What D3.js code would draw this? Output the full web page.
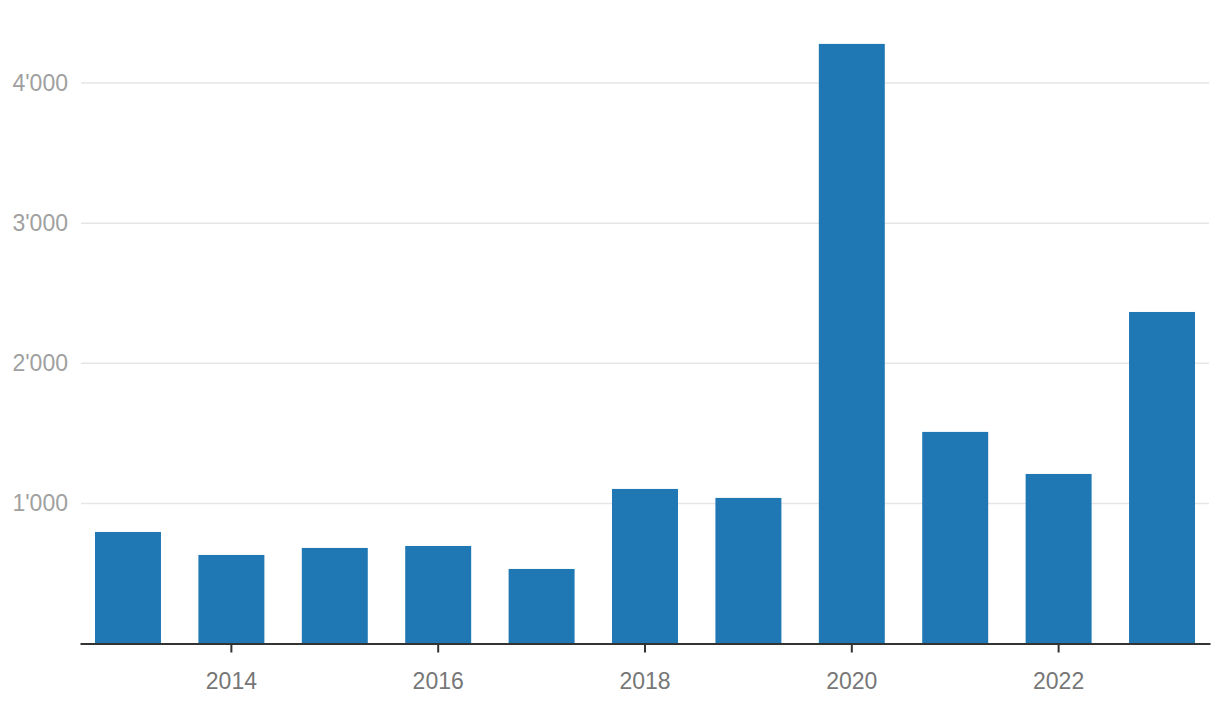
<!DOCTYPE html>
<html>
<head>
<meta charset="utf-8">
<script src="https://cdn.jsdelivr.net/npm/d3@7"></script>
<style>
  body { margin: 0; background: #fff; }
  text { font-family: "Liberation Sans", Arial, Helvetica, sans-serif; }
</style>
</head>
<body>
<div id="chart"></div>
<script>
var years = [2013, 2014, 2015, 2016, 2017, 2018, 2019, 2020, 2021, 2022, 2023];
var values = [796, 632, 682, 696, 532, 1103, 1039, 4279, 1510, 1210, 2366];
var yTicks = [1000, 2000, 3000, 4000];
var xTicks = [2014, 2016, 2018, 2020, 2022];

var width = 1220, height = 706;

var svg = d3.select("#chart").append("svg")
    .attr("width", width)
    .attr("height", height);

var x = d3.scaleBand()
    .domain(years)
    .range([80, 1210])
    .paddingInner(0.362)
    .paddingOuter(0.145);

var y = d3.scaleLinear()
    .domain([0, 4000])
    .range([643.5, 83]);

var fmt = d3.formatLocale({decimal: ".", thousands: "'", grouping: [3], currency: ["", ""]}).format(",");

// gridlines
svg.selectAll("line.grid")
    .data(yTicks)
    .enter()
    .append("line")
    .attr("class", "grid")
    .attr("x1", 81)
    .attr("x2", 1209)
    .attr("y1", function(d) { return y(d); })
    .attr("y2", function(d) { return y(d); })
    .attr("stroke", "#e6e6e6")
    .attr("stroke-width", 1.5);

svg.selectAll("text.ylab")
    .data(yTicks)
    .enter()
    .append("text")
    .attr("class", "ylab")
    .attr("x", 68)
    .attr("y", function(d) { return y(d); })
    .attr("dy", "0.35em")
    .attr("text-anchor", "end")
    .attr("font-size", 23)
    .attr("fill", "#a0a0a0")
    .text(function(d) { return fmt(d); });

// bars
svg.selectAll("rect.bar")
    .data(years)
    .enter()
    .append("rect")
    .attr("class", "bar")
    .attr("x", function(d) { return x(d); })
    .attr("width", x.bandwidth())
    .attr("y", function(d, i) { return y(values[i]); })
    .attr("height", function(d, i) { return y(0) - y(values[i]); })
    .attr("fill", "#1f77b4");

// x axis
var xAxis = d3.axisBottom(x)
    .tickValues(xTicks)
    .tickSize(9)
    .tickSizeOuter(0)
    .tickPadding(20);

var gx = svg.append("g")
    .attr("transform", "translate(0," + y(0) + ")")
    .call(xAxis);

gx.select(".domain")
    .attr("stroke", "#333")
    .attr("stroke-width", 2);
gx.selectAll(".tick line")
    .attr("stroke", "#333")
    .attr("stroke-width", 2);
gx.selectAll(".tick text")
    .attr("font-size", 23)
    .attr("font-family", "Liberation Sans, Arial, sans-serif")
    .attr("fill", "#777");
</script>
</body>
</html>
